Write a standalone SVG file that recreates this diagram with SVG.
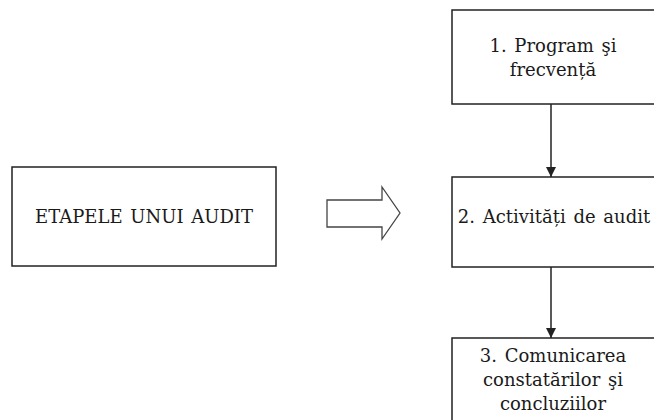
<svg xmlns="http://www.w3.org/2000/svg" width="654" height="420" viewBox="0 0 654 420">
<defs>
<style>
.box{fill:#fff;stroke:#222;stroke-width:1.5}
.t{font-family:'DejaVu Serif',serif;font-size:18px;fill:#1a1a1a;text-anchor:middle;word-spacing:2px}
.c{stroke:#222;stroke-width:1.5;fill:none}
</style>
<marker id="ah" viewBox="0 0 10 10" refX="10" refY="5" markerWidth="10" markerHeight="10" markerUnits="userSpaceOnUse" orient="auto">
<path d="M0,0 L10,5 L0,10 z" fill="#222"/>
</marker>
</defs>
<rect width="654" height="420" fill="#fff"/>
<g id="etapele">
<rect class="box" x="12" y="167" width="264" height="99"/>
<text class="t" x="144" y="223">ETAPELE UNUI AUDIT</text>
</g>
<g id="block-arrow">
<path d="M327,200 L382,200 L382,187 L400,213 L382,239 L382,227 L327,227 Z" fill="#fff" stroke="#444" stroke-width="1.3"/>
</g>
<g id="step1">
<rect class="box" x="452" y="10" width="220" height="94"/>
<text class="t" x="553" y="52">1. Program şi</text>
<text class="t" x="553" y="76">frecvență</text>
</g>
<g id="step2">
<rect class="box" x="452" y="177" width="220" height="90"/>
<text class="t" x="554" y="223">2. Activități de audit</text>
</g>
<g id="step3">
<rect class="box" x="452" y="338" width="220" height="100"/>
<text class="t" x="553" y="362">3. Comunicarea</text>
<text class="t" x="553" y="386">constatărilor şi</text>
<text class="t" x="553" y="410">concluziilor</text>
</g>
<g id="connectors">
<line class="c" x1="551" y1="104" x2="551" y2="177" marker-end="url(#ah)"/>
<line class="c" x1="551" y1="267" x2="551" y2="338" marker-end="url(#ah)"/>
</g>
</svg>
